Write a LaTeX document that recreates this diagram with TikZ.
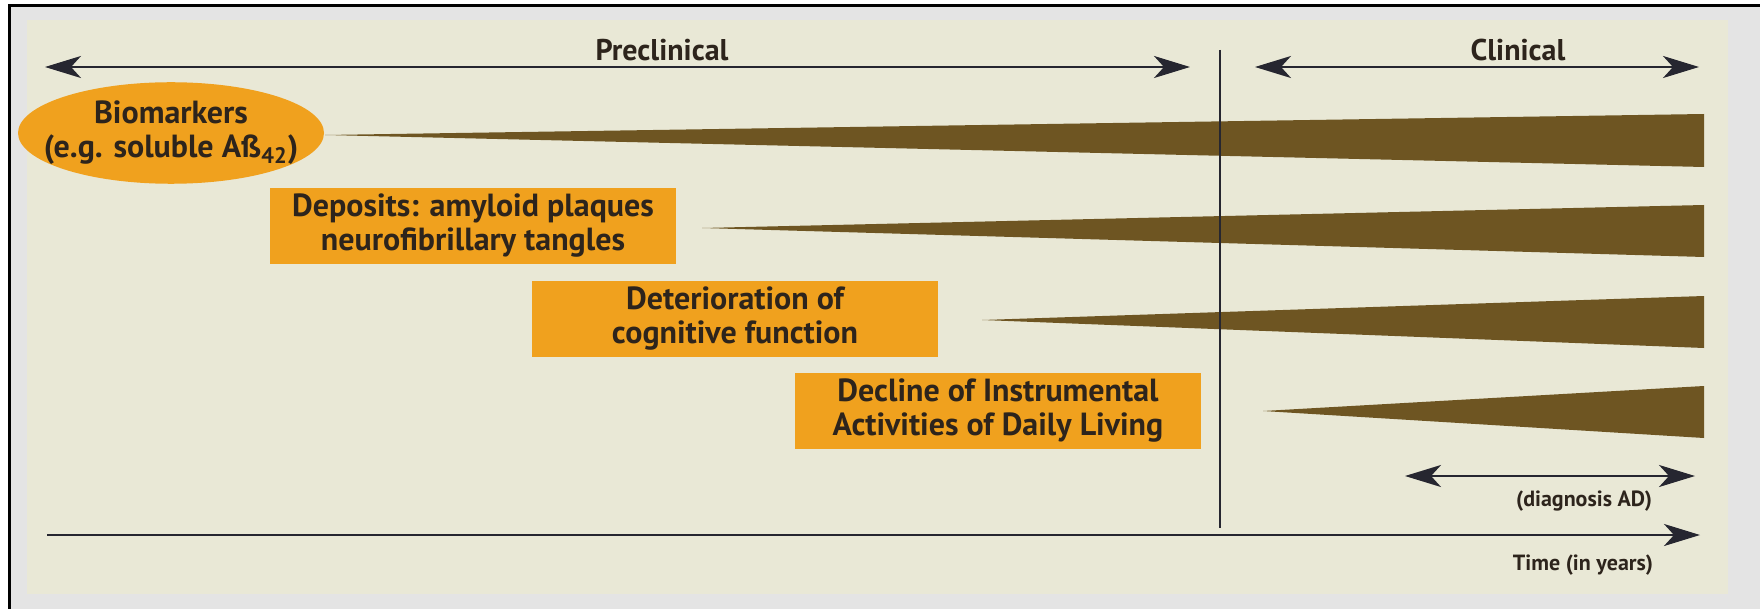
\documentclass[tikz,border=0pt]{standalone}
\usepackage{fontspec}
\setmainfont{PT Sans}
\usetikzlibrary{arrows.meta,shapes.geometric}
\definecolor{paper}{RGB}{233,232,214}
\definecolor{screen}{RGB}{228,228,228}
\definecolor{amber}{RGB}{240,161,30}
\definecolor{wedge}{RGB}{110,85,34}
\definecolor{ink}{RGB}{45,36,28}
\definecolor{arrowink}{RGB}{38,38,48}
\tikzset{
    > = {Stealth[length=18pt, width=11pt, inset=5pt]},
    stage/.style = {rectangle, fill=amber, text=ink, align=center,
        font=\fontsize{16}{17}\selectfont\bfseries,
        minimum width=203pt, minimum height=36pt},
    marker/.style = {ellipse, fill=amber, text=ink, align=center,
        font=\fontsize{16}{17}\selectfont\bfseries,
        inner xsep=-10pt, inner ysep=2pt,
        minimum width=153pt, minimum height=50pt},
    phase/.style = {text=ink, font=\fontsize{15}{17}\selectfont\bfseries},
    note/.style = {text=ink, font=\fontsize{11}{13}\selectfont\bfseries},
    span/.style = {draw=arrowink, line width=1.2pt},
    growth/.style = {fill=wedge}
}

\begin{document}
\begin{tikzpicture}[x=0.5pt, y=-0.5pt]
    \useasboundingbox (0,0) rectangle (1760,609);
    \fill[white] (0,0) rectangle (1760,609);
    \fill[screen] (9,6) rectangle (1760,609);
    \fill[paper] (27,20) rectangle (1728,594);
    \draw[line width=1.5pt] (9,609) -- (9,6) -- (1760,6);

    % stages
    \node[marker] (bio) at (171,133) {Biomarkers\\(e.g. soluble Aß\textsubscript{42})};
    \node[stage] (dep) at (473,226) {Deposits: amyloid plaques\\neurofibrillary tangles};
    \node[stage] (cog) at (735,319) {Deterioration of\\cognitive function};
    \node[stage] (iadl) at (998,411) {Decline of Instrumental\\Activities of Daily Living};

    % wedges
    \fill[growth] (325,135) -- (1704,114) -- (1704,167) -- cycle;
    \fill[growth] (702,228) -- (1704,205) -- (1704,257) -- cycle;
    \fill[growth] (982,320) -- (1704,296) -- (1704,348) -- cycle;
    \fill[growth] (1263,411) -- (1704,386) -- (1704,438) -- cycle;

    % phases
    \node[phase] (pre) at (662,50) {Preclinical};
    \node[phase] (cli) at (1518,50) {Clinical};
    \coordinate (preL) at (45,67);
    \coordinate (preR) at (1190,67);
    \coordinate (cliL) at (1255,67);
    \coordinate (cliR) at (1699,67);
    \draw[span, <->] (preL) -- (preR);
    \draw[span, <->] (cliL) -- (cliR);

    \coordinate (divTop) at (1220,50);
    \coordinate (divBot) at (1220,528);
    \draw[arrowink, line width=1pt] (divTop) -- (divBot);

    % diagnosis and time
    \node[note] (diag) at (1584,501) {(diagnosis AD)};
    \coordinate (diagL) at (1405,476);
    \coordinate (diagR) at (1695,476);
    \draw[span, <->] (diagL) -- (diagR);

    \node[note] (time) at (1583,565) {Time (in years)};
    \coordinate (t0) at (47,535);
    \coordinate (t1) at (1700,535);
    \draw[span, ->] (t0) -- (t1);
\end{tikzpicture}
\end{document}
